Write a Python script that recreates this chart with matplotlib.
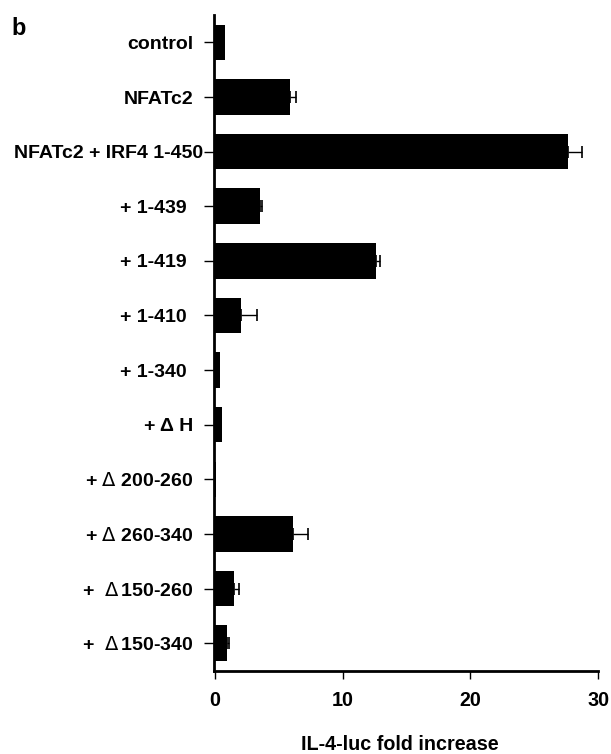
import numpy as np
import matplotlib
matplotlib.use("Agg")
import matplotlib.pyplot as plt
from matplotlib.transforms import ScaledTranslation

plt.rcParams['font.family'] = ['Liberation Sans', 'DejaVu Sans']
plt.rcParams['font.weight'] = 'bold'
plt.rcParams['mathtext.fontset'] = 'custom'
plt.rcParams['mathtext.rm'] = 'DejaVu Sans:weight=normal'
plt.rcParams['mathtext.it'] = 'DejaVu Sans:weight=normal'

labels = ["control", "NFATc2", "NFATc2 + IRF4 1-450", "+ 1-439", "+ 1-419",
          "+ 1-410", "+ 1-340", "+ \u0394 H", r"+ $\Delta$ 200-260",
          r"+ $\Delta$ 260-340", r"+  $\Delta\,$150-260", r"+  $\Delta\,$150-340"]
vals = [0.8, 5.9, 27.6, 3.55, 12.6, 2.05, 0.42, 0.52, 0.1, 6.1, 1.5, 0.9]
errs = [0, 0.4, 1.1, 0.15, 0.3, 1.2, 0, 0, 0, 1.2, 0.35, 0.2]
xticks = [0, 10, 20, 30]
# small horizontal nudges of the labels as in the original (px)
nudge = [0, 0, 10, -6, -6, -6, -6, 0, 0, 0, 0, 0]

fig = plt.figure(figsize=(6.11, 7.54), dpi=100)
ax = fig.add_axes([0.350, 0.110, 0.629, 0.870])

y = np.arange(len(labels))
ax.barh(y, vals, height=0.65, color='black', zorder=2)
# error bars only where there is one
xe = [v for v, e in zip(vals, errs) if e > 0]
ye = [yy for yy, e in zip(y, errs) if e > 0]
ee = [e for e in errs if e > 0]
ax.errorbar(xe, ye, xerr=[np.zeros(len(ee)), ee], fmt='none', ecolor='black',
            elinewidth=1, capsize=4, capthick=1.2, zorder=3)

ax.set_ylim(len(labels) - 0.49, -0.5)
ax.set_xlim(-0.1, 30)
ax.set_yticks(y)
ax.set_yticklabels(labels, fontsize=14, fontweight='bold')
ax.set_xticks(xticks)
ax.set_xticklabels([str(t) for t in xticks], fontsize=14.2, fontweight='bold')
ax.tick_params(axis='y', length=7, width=1, pad=8)
ax.tick_params(axis='x', length=6, width=1, pad=8)

for lab, n in zip(ax.get_yticklabels(), nudge):
    if n:
        lab.set_transform(lab.get_transform() + ScaledTranslation(n / 100, 0, fig.dpi_scale_trans))

for s in ['top', 'right']:
    ax.spines[s].set_visible(False)
for s in ['left', 'bottom']:
    ax.spines[s].set_linewidth(2)

fig.text(0.018, 0.977, "b", fontsize=17, fontweight='bold', va='top', ha='left')
fig.text(0.655, 0.012, "IL-4-luc fold increase", fontsize=14.2, fontweight='bold',
         ha='center', va='center')

fig.savefig("out.png", dpi=100)
